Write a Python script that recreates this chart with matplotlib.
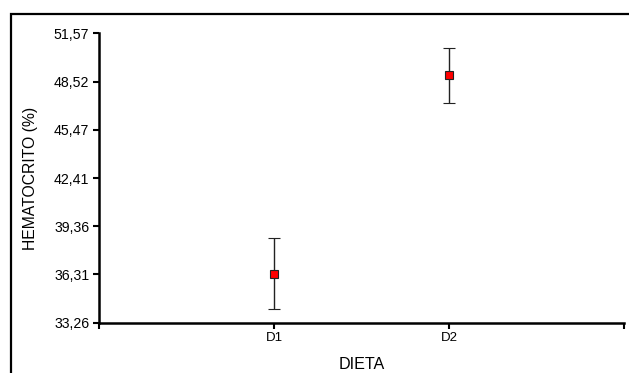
import matplotlib
matplotlib.use('Agg')
import matplotlib.pyplot as plt
from matplotlib.patches import Rectangle

# data
groups = ['D1', 'D2']
group_pos = [1, 2]
means = [36.37, 48.92]
errors = [2.24, 1.73]

y_ticks = [33.26, 36.31, 39.36, 42.41, 45.47, 48.52, 51.57]
y_tick_labels = ['33,26', '36,31', '39,36', '42,41', '45,47', '48,52', '51,57']
x_ticks = [0, 1, 2, 3]
x_tick_labels = ['', 'D1', 'D2', '']

plt.rcParams['font.family'] = ['Liberation Sans', 'DejaVu Sans']

fig = plt.figure(figsize=(6.29, 3.73), dpi=100)

# outer frame (cropped on right and bottom)
fig.patches.append(Rectangle((11 / 629, -0.2), 1.2, 1 - 14 / 373 + 0.2,
                             transform=fig.transFigure, fill=False,
                             edgecolor='black', linewidth=1.6))

ax = fig.add_axes([99 / 629, 1 - 322.7 / 373, 525 / 629, 289.4 / 373])

ax.errorbar(group_pos, means, yerr=errors, fmt='s', color='black',
            ecolor='#222222', elinewidth=1.0, capsize=4, capthick=1.0,
            markersize=5.5, markerfacecolor='#ff0000',
            markeredgecolor='#222222', markeredgewidth=0.8, zorder=3)

ax.set_xlim(0, 3)
ax.set_ylim(y_ticks[0], y_ticks[-1])
ax.set_xticks(x_ticks)
ax.set_xticklabels(x_tick_labels, fontsize=9.5)
ax.set_yticks(y_ticks)
ax.set_yticklabels(y_tick_labels, fontsize=10.2)

for side in ['top', 'right']:
    ax.spines[side].set_visible(False)
for side in ['left', 'bottom']:
    ax.spines[side].set_linewidth(1.8)

ax.tick_params(axis='both', direction='out', length=4, width=1.5,
               pad=3, colors='black')

ax.set_ylabel('HEMATOCRITO (%)', fontsize=11.3)
ax.set_xlabel('DIETA', fontsize=11.6)
ax.yaxis.set_label_coords(-0.116, 0.5)
ax.xaxis.set_label_coords(0.5, -0.118)

fig.savefig('out.png', dpi=100, facecolor='white')
